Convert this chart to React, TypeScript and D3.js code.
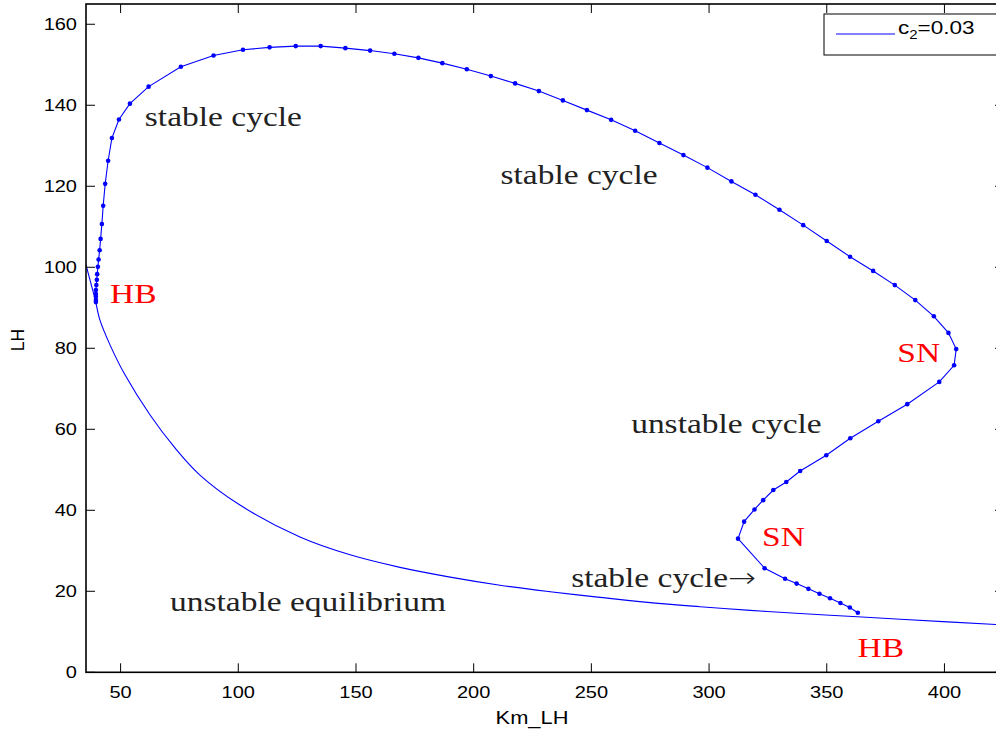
import React from "react";
import * as d3 from "d3";

// Limit-cycle branch (Km_LH, LH), starting at the left Hopf point
const cycleKm = [39.5, 39.5, 39.5, 39.5, 39.5, 39.7, 39.9, 40.05, 40.35, 40.65, 41.1, 41.5, 42.05, 42.6, 43.45, 44.7, 46.3, 49.3, 53.95, 61.9, 75.6, 89.5, 102.0, 113.3, 124.4, 135.0, 145.5, 156.0, 166.3, 176.5, 186.7, 197.1, 207.3, 217.6, 227.7, 237.9, 248.1, 258.4, 268.6, 278.9, 289.1, 299.3, 309.5, 319.7, 329.9, 340.0, 350.0, 359.9, 369.7, 378.9, 387.6, 395.5, 401.7, 405.0, 404.1, 397.8, 384.2, 371.9, 360.0, 349.8, 338.7, 332.8, 327.3, 323.0, 319.3, 314.9, 312.3, 323.6, 332.3, 337.2, 342.2, 346.9, 351.4, 355.8, 359.8, 363.2];
const cycleLH = [91.4, 91.9, 92.7, 93.4, 94.4, 95.6, 96.9, 98.3, 100.1, 101.9, 104.2, 107.0, 110.7, 115.2, 120.6, 126.3, 131.9, 136.5, 140.4, 144.6, 149.5, 152.3, 153.7, 154.3, 154.6, 154.6, 154.1, 153.5, 152.7, 151.7, 150.4, 148.9, 147.2, 145.4, 143.5, 141.2, 138.8, 136.4, 133.7, 130.7, 127.7, 124.6, 121.2, 117.9, 114.2, 110.4, 106.5, 102.6, 99.1, 95.6, 91.9, 87.9, 83.8, 79.8, 75.8, 71.7, 66.2, 62.0, 57.8, 53.6, 49.7, 47.0, 45.0, 42.5, 40.2, 37.2, 33.0, 25.7, 23.1, 21.9, 20.6, 19.4, 18.3, 17.1, 16.0, 14.7];

// Equilibrium branch (the straight segment to the left, then the smooth decay)
const eqLeftKm = [35.3, 39.5];
const eqLeftLH = [100.6, 91.4];
const eqKm = [39.5, 41.2, 45.45, 51.8, 62.45, 73.1, 83.7, 100.7, 126.2, 147.5, 168.7, 190.0, 211.2, 232.5, 253.7, 275.0, 296.2, 317.5, 338.7, 363.0, 381.3, 425.3];
const eqLH = [91.4, 87.0, 80.9, 73.5, 63.6, 55.4, 48.7, 41.3, 33.4, 29.0, 25.9, 23.5, 21.5, 19.9, 18.5, 17.2, 16.2, 15.3, 14.5, 13.7, 13.1, 11.7];

const xTicks = [50, 100, 150, 200, 250, 300, 350, 400];
const yTicks = [0, 20, 40, 60, 80, 100, 120, 140, 160];

const annoText = ["stable cycle", "stable cycle", "unstable cycle", "unstable equilibrium", "stable cycle", "HB", "SN", "SN", "HB"];
const annoArrow = [false, false, false, false, true, false, false, false, false];
const annoKm = [60.3, 211.4, 266.9, 71.0, 241.4, 45.5, 380.0, 322.5, 363.1];
const annoLH = [135.0, 120.6, 59.1, 15.1, 21.1, 91.1, 76.7, 31.3, 3.7];
const annoColor = ["#222", "#222", "#222", "#222", "#222", "red", "red", "red", "red"];

const legendLabel = "c";
const legendSub = "2";
const legendRest = "=0.03";
const xLabel = "Km_LH";
const yLabel = "LH";

const W = 996, H = 731;
const L = 86, R = 1004, T = 4, B = 672.3;
const SX = 1.25;

function SText(props: any) {
  const { x, y, sx = SX, anchor = "start", size = 16, family = "'Liberation Sans', Arial, sans-serif", fill = "#000", children } = props;
  return (
    <text transform={`translate(${x},${y}) scale(${sx},1)`} textAnchor={anchor} fontSize={size} fontFamily={family} fill={fill}>
      {children}
    </text>
  );
}

export default function App() {
  const x = d3.scaleLinear().domain([35.3, 425.3]).range([L, R]);
  const y = d3.scaleLinear().domain([0, 165]).range([B, T]);
  const mk = (xs: number[], ys: number[], curve: any = d3.curveLinear) =>
    d3.line<[number, number]>().x(d => x(d[0])).y(d => y(d[1])).curve(curve)(xs.map((v, i) => [v, ys[i]] as [number, number])) || "";
  const tickLen = 9;
  return (
    <svg width={W} height={H} style={{ position: "absolute", left: 0, top: 0, background: "#fff" }}>
      <rect x={0} y={0} width={W} height={H} fill="#fff" />
      <defs>
        <clipPath id="plot"><rect x={L} y={T} width={R - L} height={B - T} /></clipPath>
      </defs>
      <g clipPath="url(#plot)">
        <path d={mk(eqLeftKm, eqLeftLH)} fill="none" stroke="#0000ff" strokeWidth={1.1} />
        <path d={mk(eqKm, eqLH, d3.curveCatmullRom.alpha(0.5))} fill="none" stroke="#0000ff" strokeWidth={1.1} />
        <path d={mk(cycleKm, cycleLH)} fill="none" stroke="#0000ff" strokeWidth={1.1} />
        {cycleKm.map((v, i) => (
          <circle key={i} cx={x(v)} cy={y(cycleLH[i])} r={2.3} fill="#0000ff" />
        ))}
      </g>
      {/* frame */}
      <rect x={L} y={T} width={R - L} height={B - T} fill="none" stroke="#000" strokeWidth={1.6} />
      {xTicks.map(t => (
        <g key={"x" + t}>
          <line x1={x(t)} x2={x(t)} y1={B} y2={B - tickLen} stroke="#000" strokeWidth={1} />
          <line x1={x(t)} x2={x(t)} y1={T} y2={T + tickLen} stroke="#000" strokeWidth={1} />
          <SText x={x(t)} y={698} anchor="middle">{t}</SText>
        </g>
      ))}
      {yTicks.map(t => (
        <g key={"y" + t}>
          <line x1={L} x2={L + tickLen} y1={y(t)} y2={y(t)} stroke="#000" strokeWidth={1} />
          <line x1={R} x2={R - tickLen} y1={y(t)} y2={y(t)} stroke="#000" strokeWidth={1} />
          <SText x={77} y={y(t) + 6} anchor="end">{t}</SText>
        </g>
      ))}
      <SText x={532} y={724} anchor="middle" size={17.5}>{xLabel}</SText>
      <text transform={`translate(24,340) rotate(-90)`} textAnchor="middle" fontSize={17.5} fontFamily="'Liberation Sans', Arial, sans-serif">{yLabel}</text>
      {annoText.map((s, i) => (
        <SText key={"a" + i} x={x(annoKm[i])} y={y(annoLH[i])} size={27} sx={1.24}
          family="'Liberation Serif', 'Times New Roman', serif" fill={annoColor[i]}>
          {s}
          {annoArrow[i] ? <tspan fontFamily="'DejaVu Sans', sans-serif" fontWeight={200}>{"\u2192"}</tspan> : null}
        </SText>
      ))}
      {/* legend */}
      <rect x={824} y={14} width={190} height={41} fill="#fff" stroke="#000" strokeWidth={1} />
      <line x1={836} x2={895} y1={34} y2={34} stroke="#0000ff" strokeWidth={1.1} />
      <text transform={`translate(898,34) scale(${SX},1)`} fontSize={18} fontFamily="'Liberation Sans', Arial, sans-serif">
        {legendLabel}
        <tspan fontSize={12} dy={5}>{legendSub}</tspan>
        <tspan dy={-5}>{legendRest}</tspan>
      </text>
    </svg>
  );
}
